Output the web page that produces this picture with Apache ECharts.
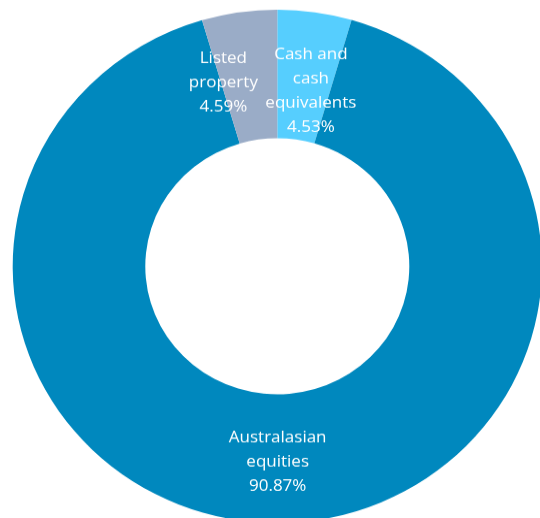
<!DOCTYPE html>
<html>
<head>
<meta charset="utf-8">
<script src="https://cdn.jsdelivr.net/npm/echarts@6/dist/echarts.min.js"></script>
<style>
  html, body { margin: 0; padding: 0; background: #ffffff; }
  #wrap { width: 540px; height: 518px; overflow: hidden; position: relative; }
  #main { width: 540px; height: 534px; transform: scaleY(0.97); transform-origin: 0 0; }
</style>
</head>
<body>
<div id="wrap"><div id="main"></div></div>
<script>
// Data
const categories = ['Cash and\ncash\nequivalents', 'Australasian\nequities', 'Listed\nproperty'];
const values = [4.53, 90.87, 4.59];
const colors = ['#56CEFE', '#0088BE', '#9AACC7'];
// label nudges (style only)
const labelShift = [[5, 18], [0, 0], [-25, 10]];

const chart = echarts.init(document.getElementById('main'));
chart.setOption({
  animation: false,
  backgroundColor: '#ffffff',
  series: [{
    type: 'pie',
    center: [277.3, 274.5],
    radius: [132, 264.6],
    startAngle: 90,
    clockwise: true,
    avoidLabelOverlap: false,
    data: categories.map((c, i) => ({ name: c, value: values[i], itemStyle: { color: colors[i] } })),
    itemStyle: { borderWidth: 0 },
    label: {
      show: true,
      position: 'inside',
      color: '#ffffff',
      fontFamily: 'Open Sans',
      fontSize: 17,
      lineHeight: 25,
      align: 'center',
      formatter: p => p.name + '\n' + p.value.toFixed(2) + '%'
    },
    labelLine: { show: false },
    labelLayout: function (params) {
      const s = labelShift[params.dataIndex];
      return { dx: s[0], dy: s[1] };
    },
    emphasis: { disabled: true }
  }]
});
</script>
</body>
</html>
